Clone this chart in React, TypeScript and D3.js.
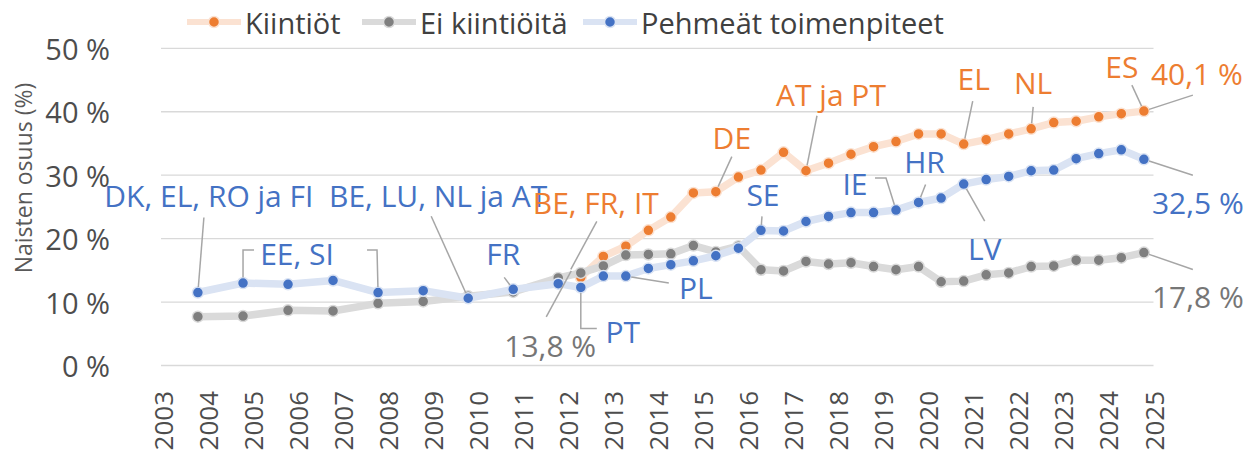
import React, { useEffect, useRef } from 'react';
import * as d3 from 'd3';

// tarkasteluajankohdat (lokakuu / huhtikuu)
const periods = [
  "2003-10", "2004-10", "2005-10", "2006-10", "2007-10", "2008-10", "2009-10", "2010-10", "2011-10",
  "2012-04", "2012-10", "2013-04", "2013-10", "2014-04", "2014-10", "2015-04", "2015-10",
  "2016-04", "2016-10", "2017-04", "2017-10", "2018-04", "2018-10", "2019-04", "2019-10",
  "2020-04", "2020-10", "2021-04", "2021-10", "2022-04", "2022-10", "2023-04", "2023-10",
  "2024-04", "2024-10"
];

const kiintiot: (number | null)[] = [
  null, null, null, null, null, null, null, null, null,
  13.9, 17.2, 18.8, 21.3, 23.4, 27.2, 27.4, 29.7,
  30.8, 33.6, 30.7, 31.9, 33.3, 34.5, 35.3, 36.5,
  36.5, 34.9, 35.6, 36.5, 37.3, 38.3, 38.5, 39.2,
  39.7, 40.1
];

const eiKiintioita: (number | null)[] = [
  7.7, 7.8, 8.7, 8.6, 9.8, 10.1, 10.9, 11.6, 13.8,
  14.6, 15.7, 17.4, 17.5, 17.6, 18.9, 17.9, 18.8,
  15.1, 14.9, 16.4, 16.0, 16.2, 15.6, 15.1, 15.6,
  13.2, 13.3, 14.3, 14.6, 15.6, 15.7, 16.6, 16.6,
  17.0, 17.8
];

const pehmeat: (number | null)[] = [
  11.5, 13.0, 12.8, 13.4, 11.5, 11.8, 10.6, 12.0, 12.9,
  12.3, 14.1, 14.1, 15.3, 15.9, 16.5, 17.3, 18.5,
  21.3, 21.2, 22.7, 23.5, 24.1, 24.1, 24.5, 25.7,
  26.4, 28.6, 29.3, 29.8, 30.7, 30.8, 32.6, 33.4,
  34.0, 32.5
];

const yearLabels = [
  "2003", "2004", "2005", "2006", "2007", "2008", "2009", "2010", "2011", "2012", "2013", "2014",
  "2015", "2016", "2017", "2018", "2019", "2020", "2021", "2022", "2023", "2024", "2025"
];
const yTicks = [0, 10, 20, 30, 40, 50];

const series = [
  { key: "orange", name: "Kiintiöt", values: kiintiot, dot: "#ED7D31", line: "#FBE2D2", text: "#ED7D31" },
  { key: "gray", name: "Ei kiintiöitä", values: eiKiintioita, dot: "#7F7F7F", line: "#DADADA", text: "#767676" },
  { key: "blue", name: "Pehmeät toimenpiteet", values: pehmeat, dot: "#4472C4", line: "#DAE3F3", text: "#4472C4" },
];

type Leader = { period: string; pts: [number, number][]; end?: [number, number] };
type Note = { text: string; series: string; period: string; dx: number; dy: number; leaders: Leader[] };

// maamerkinnät: paikka suhteessa pisteeseen, johtoviivan alku suhteessa tekstiin
const notes: Note[] = [
  { text: "DK, EL, RO ja FI", series: "blue", period: "2003-10", dx: 11, dy: -97, leaders: [{ period: "2003-10", pts: [[-5, 22]] }] },
  { text: "EE, SI", series: "blue", period: "2004-10", dx: 54, dy: -30, leaders: [
    { period: "2004-10", pts: [[-43, -3], [-54, -3]] },
    { period: "2007-10", pts: [[70, -3], [80, -3]] }] },
  { text: "BE, LU, NL ja AT", series: "blue", period: "2009-10", dx: -30, dy: -103, leaders: [{ period: "2009-10", pts: [[-7, 21]] }] },
  { text: "FR", series: "blue", period: "2010-10", dx: -10, dy: -36, leaders: [{ period: "2010-10", pts: [[1, 24]] }] },
  { text: "PT", series: "blue", period: "2012-04", dx: 42, dy: 44, leaders: [{ period: "2012-04", pts: [[-26, -3], [-42, -3]] }] },
  { text: "PL", series: "blue", period: "2013-04", dx: 70, dy: 11, leaders: [{ period: "2013-04", pts: [[-27, -4]] }] },
  { text: "SE", series: "blue", period: "2016-04", dx: 2, dy: -36, leaders: [{ period: "2016-04", pts: [[-1, 22]] }] },
  { text: "IE", series: "blue", period: "2019-04", dx: -41, dy: -27, leaders: [{ period: "2019-04", pts: [[20, -5], [31, -5]] }] },
  { text: "HR", series: "blue", period: "2019-10", dx: 6, dy: -41, leaders: [{ period: "2019-10", pts: [[1, 23]] }] },
  { text: "LV", series: "blue", period: "2020-10", dx: 21, dy: 64, leaders: [{ period: "2020-10", pts: [[0, -27]] }] },
  { text: "32,5 %", series: "blue", period: "2024-10", dx: 54, dy: 43, leaders: [{ period: "2024-10", pts: [[-5, -27]] }] },
  { text: "BE, FR, IT", series: "orange", period: "2012-04", dx: 15, dy: -75, leaders: [{ period: "2012-04", pts: [[1, 19]], end: [-10, -8] }] },
  { text: "DE", series: "orange", period: "2015-04", dx: 16, dy: -54, leaders: [{ period: "2015-04", pts: [[0, 19]] }] },
  { text: "AT ja PT", series: "orange", period: "2017-04", dx: 25, dy: -76, leaders: [{ period: "2017-04", pts: [[-14, 21]] }] },
  { text: "EL", series: "orange", period: "2020-10", dx: 10, dy: -66, leaders: [{ period: "2020-10", pts: [[-1, 23]] }] },
  { text: "NL", series: "orange", period: "2022-04", dx: 2, dy: -46, leaders: [{ period: "2022-04", pts: [[0, 24]] }] },
  { text: "ES", series: "orange", period: "2024-10", dx: -22, dy: -45, leaders: [{ period: "2024-10", pts: [[10, 19]] }] },
  { text: "40,1 %", series: "orange", period: "2024-10", dx: 53, dy: -38, leaders: [{ period: "2024-10", pts: [[-4, 22]] }] },
  { text: "13,8 %", series: "gray", period: "2011-10", dx: -8, dy: 68, leaders: [{ period: "2011-10", pts: [[-4, -29]], end: [13, -7] }] },
  { text: "17,8 %", series: "gray", period: "2024-10", dx: 54, dy: 44, leaders: [{ period: "2024-10", pts: [[-5, -27]] }] },
];

const App: React.FC = () => {
  const svgRef = useRef<SVGSVGElement>(null);

  useEffect(() => {
    if (!svgRef.current) return;

    const W = 1254, H = 457;
    const font = "'Open Sans', 'Noto Sans', sans-serif";
    const R = 5.5;

    const parse = d3.timeParse("%Y-%m-%d");
    const dateOf = (p: string) => parse(p + "-15") as Date;

    const x = d3.scaleTime()
      .domain([parse("2003-01-01") as Date, parse("2025-01-01") as Date])
      .range([162.5, 1153.5]);
    const y = d3.scaleLinear().domain([0, 50]).range([365.5, 48.3]);

    d3.select(svgRef.current).selectAll("*").remove();
    const svg = d3.select(svgRef.current)
      .attr("width", W)
      .attr("height", H)
      .style("font-family", font);

    svg.append("rect").attr("width", W).attr("height", H).attr("fill", "#fff");

    // vaakaviivat
    svg.append("g").selectAll("line")
      .data(yTicks)
      .join("line")
      .attr("x1", x.range()[0] - 1.5)
      .attr("x2", x.range()[1])
      .attr("y1", d => y(d))
      .attr("y2", d => y(d))
      .attr("stroke", "#d9d9d9")
      .attr("stroke-width", 1.3);

    svg.append("g").selectAll("text")
      .data(yTicks)
      .join("text")
      .attr("x", 110)
      .attr("y", d => y(d))
      .attr("text-anchor", "end")
      .attr("dominant-baseline", "central")
      .attr("fill", "#4d4d4d")
      .style("font-size", "29px")
      .text(d => `${d} %`);

    svg.append("g").selectAll("text")
      .data(yearLabels)
      .join("text")
      .attr("transform", d => `translate(${x(parse(d + "-01-01") as Date)},391) rotate(-90)`)
      .attr("text-anchor", "end")
      .attr("dominant-baseline", "central")
      .attr("fill", "#4d4d4d")
      .style("font-size", "26px")
      .text(d => d);

    svg.append("text")
      .attr("transform", "translate(23,178) rotate(-90)")
      .attr("text-anchor", "middle")
      .attr("dominant-baseline", "central")
      .attr("fill", "#595959")
      .style("font-size", "23px")
      .text("Naisten osuus (%)");

    const pointOf = (key: string, period: string): [number, number] => {
      const s = series.find(d => d.key === key)!;
      const v = s.values[periods.indexOf(period)] as number;
      return [x(dateOf(period)), y(v)];
    };

    // sarjat
    series.forEach(s => {
      const pts = periods
        .map((p, i) => ({ date: dateOf(p), v: s.values[i] }))
        .filter(d => d.v != null) as { date: Date; v: number }[];

      const line = d3.line<{ date: Date; v: number }>()
        .x(d => x(d.date))
        .y(d => y(d.v));

      svg.append("path")
        .datum(pts)
        .attr("fill", "none")
        .attr("stroke", s.line)
        .attr("stroke-width", 7.5)
        .attr("stroke-linejoin", "round")
        .attr("stroke-linecap", "round")
        .attr("d", line);

      svg.append("g").selectAll("circle")
        .data(pts)
        .join("circle")
        .attr("cx", d => x(d.date))
        .attr("cy", d => y(d.v))
        .attr("r", R)
        .attr("fill", s.dot)
        .attr("stroke", s.line)
        .attr("stroke-width", 1.5);
    });

    // johtoviivat ja tekstit
    const ng = svg.append("g");
    notes.forEach(n => {
      const [px, py] = pointOf(n.series, n.period);
      const lx = px + n.dx, ly = py + n.dy;
      const col = series.find(s => s.key === n.series)!.text;

      n.leaders.forEach(l => {
        const [tx, ty] = pointOf(n.series, l.period);
        const path = l.pts.map(([a, b]) => [lx + a, ly + b] as [number, number]);
        if (l.end) {
          path.push([tx + l.end[0], ty + l.end[1]]);
        } else {
          const last = path[path.length - 1];
          const len = Math.hypot(tx - last[0], ty - last[1]) || 1;
          path.push([tx - (tx - last[0]) / len * R, ty - (ty - last[1]) / len * R]);
        }
        ng.append("path")
          .attr("d", d3.line()(path))
          .attr("fill", "none")
          .attr("stroke", "#a6a6a6")
          .attr("stroke-width", 1.5);
      });

      ng.append("text")
        .attr("x", lx)
        .attr("y", ly)
        .attr("text-anchor", "middle")
        .attr("dominant-baseline", "central")
        .attr("fill", col)
        .style("font-size", "30px")
        .text(n.text);
    });

    // selite
    const legendX = [187, 362, 583];
    const lg = svg.append("g");
    series.forEach((s, i) => {
      const x0 = legendX[i];
      lg.append("line")
        .attr("x1", x0).attr("x2", x0 + 54)
        .attr("y1", 22).attr("y2", 22)
        .attr("stroke", s.line)
        .attr("stroke-width", 6);
      lg.append("circle")
        .attr("cx", x0 + 27).attr("cy", 22).attr("r", R)
        .attr("fill", s.dot)
        .attr("stroke", s.line)
        .attr("stroke-width", 1.5);
      lg.append("text")
        .attr("x", x0 + 58).attr("y", 22)
        .attr("dominant-baseline", "central")
        .attr("fill", "#404040")
        .style("font-size", "29px")
        .text(s.name);
    });
  }, []);

  return (
    <svg ref={svgRef} style={{ position: 'absolute', left: 0, top: 0, display: 'block' }}></svg>
  );
};

export default App;
